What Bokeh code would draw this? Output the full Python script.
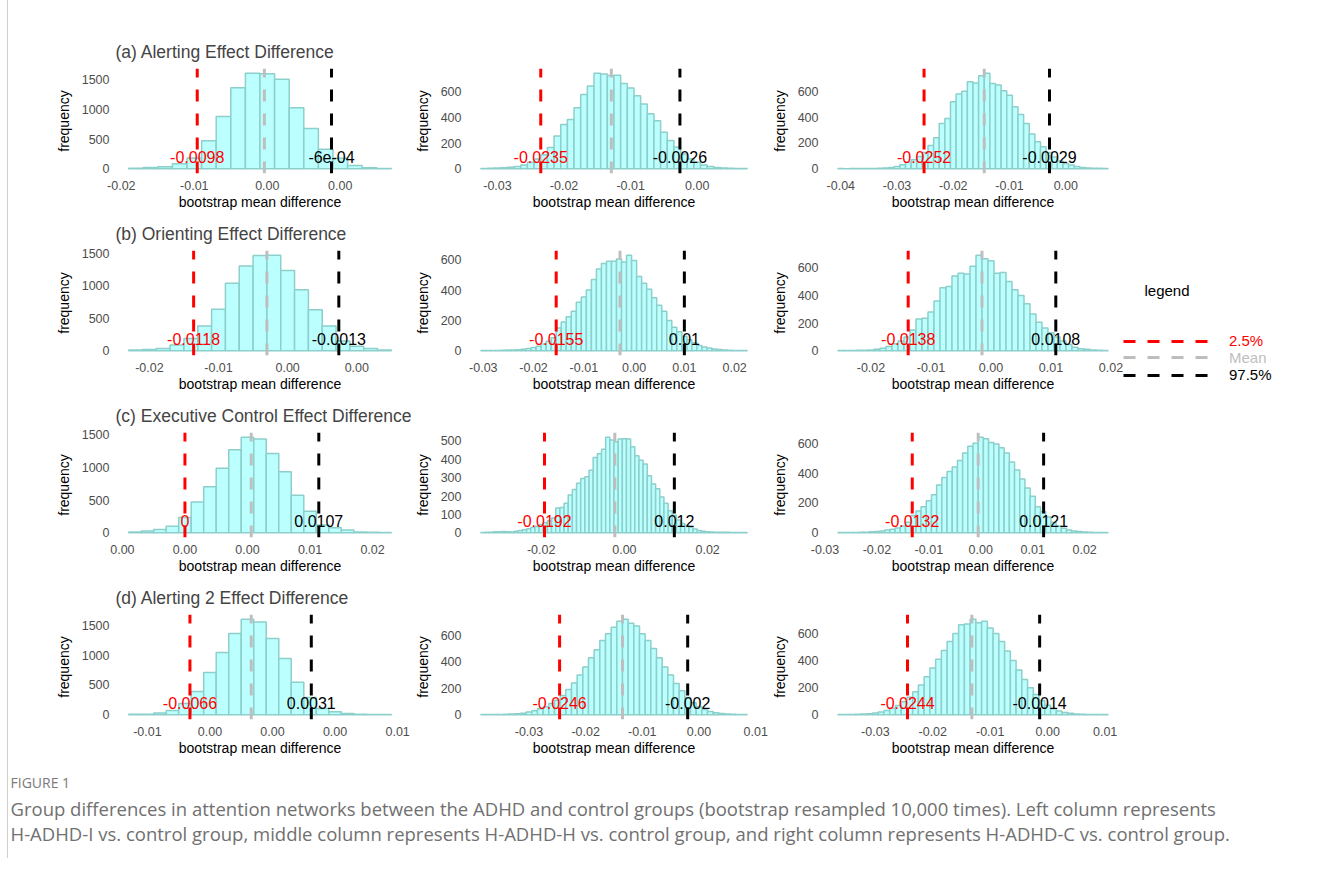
from bokeh.plotting import figure
from bokeh.models import ColumnDataSource, Range1d, FixedTicker, Label, Legend, LegendItem, Spacer
from bokeh.layouts import row, column
from bokeh.embed import file_html
from bokeh.resources import INLINE
from bokeh.core.properties import value

FONT = "Liberation Sans"

row_titles = ["(a) Alerting Effect Difference", "(b) Orienting Effect Difference",
              "(c) Executive Control Effect Difference", "(d) Alerting 2 Effect Difference"]
x_label = "bootstrap mean difference"
y_label = "frequency"
bin_width = 0.001

# ---------------- histogram counts (bin width 0.001) ----------------
a1_first_edge = -0.0145
a1_counts = [10, 20, 35, 85, 180, 470, 880, 1365, 1610, 1600, 1510, 1030, 680, 330, 175, 55, 15, 5]
a2_first_edge = -0.0325
a2_counts = [2, 3, 5, 8, 12, 18, 30, 50, 75, 110, 165, 255, 345, 385, 475, 580, 645, 745, 740, 728,
             730, 665, 630, 570, 505, 430, 375, 285, 220, 170, 115, 78, 50, 30, 18, 10, 6, 4, 2, 1]
a3_first_edge = -0.0405
a3_counts = [1, 0, 1, 1, 1, 2, 2, 3, 6, 10, 18, 30, 50, 70, 95, 125, 180, 240, 350, 390,
             520, 580, 600, 675, 665, 720, 740, 660, 650, 605, 570, 480, 420, 350, 270, 210, 170, 125, 90, 60,
             40, 28, 18, 10, 6, 4, 3, 2]

b1_first_edge = -0.0165
b1_counts = [10, 20, 35, 90, 190, 380, 640, 1040, 1305, 1465, 1470, 1235, 940, 630, 380, 150, 70, 35, 10]
b2_first_edge = -0.0305
b2_counts = [1, 1, 2, 2, 3, 4, 5, 7, 10, 15, 22, 30, 45, 62, 85, 150, 190, 225, 260, 320,
             355, 400, 470, 540, 575, 590, 590, 605, 585, 630, 595, 490, 445, 405, 350, 300, 260, 200, 155, 125,
             95, 72, 52, 35, 25, 18, 12, 8, 5, 3, 2, 1, 1]
b3_first_edge = -0.0255
b3_counts = [1, 1, 2, 3, 4, 6, 10, 18, 30, 50, 70, 100, 150, 230, 235, 280, 360, 455, 465, 540,
             560, 555, 610, 690, 665, 650, 560, 565, 500, 440, 400, 340, 265, 205, 165, 130, 100, 70, 45, 25,
             15, 10, 5, 3, 2]

c1_first_edge = -0.0045
c1_counts = [10, 25, 50, 100, 235, 470, 705, 990, 1275, 1465, 1440, 1215, 935, 575, 330, 120, 75, 40, 12, 6, 3]
c2_first_edge = -0.0345
c2_counts = [1, 2, 3, 5, 6, 7, 5, 4, 8, 12, 16, 22, 28, 35, 45, 55, 65, 80, 135, 138,
             160, 205, 235, 270, 295, 305, 340, 410, 430, 455, 520, 505, 495, 510, 512, 510, 468, 420, 395, 375,
             310, 265, 240, 195, 160, 120, 95, 70, 50, 40, 30, 20, 12, 8, 6, 4, 3, 3, 2, 2,
             1, 1, 1, 1]
c3_first_edge = -0.0275
c3_counts = [1, 1, 2, 2, 3, 4, 6, 8, 12, 18, 24, 32, 45, 70, 115, 145, 175, 215, 255, 320,
             370, 410, 440, 485, 535, 580, 600, 640, 630, 605, 595, 570, 535, 475, 420, 360, 300, 245, 175, 140,
             105, 70, 45, 30, 18, 12, 8, 5, 3, 2, 1, 1]

d1_first_edge = -0.0115
d1_counts = [10, 10, 30, 70, 190, 390, 710, 1045, 1365, 1605, 1560, 1280, 945, 545, 290, 105, 50, 20, 8, 5, 3]
d2_first_edge = -0.0385
d2_counts = [1, 1, 2, 2, 3, 5, 8, 12, 20, 30, 45, 60, 85, 110, 145, 190, 240, 300, 360, 430,
             490, 560, 610, 660, 705, 720, 690, 670, 610, 560, 500, 430, 360, 300, 235, 180, 130, 90, 60, 40,
             25, 15, 9, 5, 3, 2, 1]
d3_first_edge = -0.0365
d3_counts = [1, 1, 2, 3, 5, 8, 12, 20, 32, 48, 68, 95, 130, 170, 220, 280, 345, 410, 475, 540,
             600, 665, 670, 705, 680, 690, 640, 600, 540, 470, 400, 330, 260, 200, 150, 105, 70, 45, 28, 17,
             10, 6, 4, 2, 2, 1, 1]

# ---------------- quantiles and means ----------------
lower_values = [[-0.0098, -0.0235, -0.0252], [-0.0118, -0.0155, -0.0138],
                [0.0, -0.0192, -0.0132], [-0.0066, -0.0246, -0.0244]]
lower_labels = [["-0.0098", "-0.0235", "-0.0252"], ["-0.0118", "-0.0155", "-0.0138"],
                ["0", "-0.0192", "-0.0132"], ["-0.0066", "-0.0246", "-0.0244"]]
upper_values = [[-0.0006, -0.0026, -0.0029], [-0.0013, 0.01, 0.0108],
                [0.0107, 0.012, 0.0121], [0.0031, -0.002, -0.0014]]
upper_labels = [["-6e-04", "-0.0026", "-0.0029"], ["-0.0013", "0.01", "0.0108"],
                ["0.0107", "0.012", "0.0121"], ["0.0031", "-0.002", "-0.0014"]]
mean_values = [[-0.0052, -0.0129, -0.0145], [-0.0065, -0.0028, -0.0015],
               [0.0053, -0.0023, -0.0005], [-0.0017, -0.0135, -0.0132]]

# ---------------- axis ticks ----------------
a1_xticks, a1_xlabels = [-0.015, -0.01, -0.005, 0], ["-0.02", "-0.01", "0.00", "0.00"]
a2_xticks, a2_xlabels = [-0.03, -0.02, -0.01, 0], ["-0.03", "-0.02", "-0.01", "0.00"]
a3_xticks, a3_xlabels = [-0.04, -0.03, -0.02, -0.01, 0], ["-0.04", "-0.03", "-0.02", "-0.01", "0.00"]
b1_xticks, b1_xlabels = [-0.015, -0.01, -0.005, 0], ["-0.02", "-0.01", "0.00", "0.00"]
b2_xticks, b2_xlabels = [-0.03, -0.02, -0.01, 0, 0.01, 0.02], ["-0.03", "-0.02", "-0.01", "0.00", "0.01", "0.02"]
b3_xticks, b3_xlabels = [-0.02, -0.01, 0, 0.01, 0.02], ["-0.02", "-0.01", "0.00", "0.01", "0.02"]
c1_xticks, c1_xlabels = [-0.005, 0, 0.005, 0.01, 0.015], ["0.00", "0.00", "0.00", "0.01", "0.02"]
c2_xticks, c2_xlabels = [-0.02, 0, 0.02], ["-0.02", "0.00", "0.02"]
c3_xticks, c3_xlabels = [-0.03, -0.02, -0.01, 0, 0.01, 0.02], ["-0.03", "-0.02", "-0.01", "0.00", "0.01", "0.02"]
d1_xticks, d1_xlabels = [-0.01, -0.005, 0, 0.005, 0.01], ["-0.01", "0.00", "0.00", "0.00", "0.01"]
d2_xticks, d2_xlabels = [-0.03, -0.02, -0.01, 0, 0.01], ["-0.03", "-0.02", "-0.01", "0.00", "0.01"]
d3_xticks, d3_xlabels = [-0.03, -0.02, -0.01, 0, 0.01], ["-0.03", "-0.02", "-0.01", "0.00", "0.01"]

yticks_big = [0, 500, 1000, 1500]
yticks_mid = [0, 200, 400, 600]
yticks_c2 = [0, 100, 200, 300, 400, 500]

legend_labels = ["2.5%", "Mean", "97.5%"]
legend_colors = ["#FF0000", "#BEBEBE", "#000000"]

caption_head = "FIGURE 1"
caption_line1 = ("Group differences in attention networks between the ADHD and control groups "
                 "(bootstrap resampled 10,000 times). Left column represents")
caption_line2 = ("H-ADHD-I vs. control group, middle column represents H-ADHD-H vs. control group, "
                 "and right column represents H-ADHD-C vs. control group.")

first_edges = [[a1_first_edge, a2_first_edge, a3_first_edge], [b1_first_edge, b2_first_edge, b3_first_edge],
               [c1_first_edge, c2_first_edge, c3_first_edge], [d1_first_edge, d2_first_edge, d3_first_edge]]
counts_grid = [[a1_counts, a2_counts, a3_counts], [b1_counts, b2_counts, b3_counts],
               [c1_counts, c2_counts, c3_counts], [d1_counts, d2_counts, d3_counts]]
xticks_grid = [[a1_xticks, a2_xticks, a3_xticks], [b1_xticks, b2_xticks, b3_xticks],
               [c1_xticks, c2_xticks, c3_xticks], [d1_xticks, d2_xticks, d3_xticks]]
xlabels_grid = [[a1_xlabels, a2_xlabels, a3_xlabels], [b1_xlabels, b2_xlabels, b3_xlabels],
                [c1_xlabels, c2_xlabels, c3_xlabels], [d1_xlabels, d2_xlabels, d3_xlabels]]
yticks_grid = [[yticks_big, yticks_mid, yticks_mid], [yticks_big, yticks_mid, yticks_mid],
               [yticks_big, yticks_c2, yticks_mid], [yticks_big, yticks_mid, yticks_mid]]

# ---------------- layout constants ----------------
FRAME_W = [289, 297, 301]
BORDER_L = [107, 52, 52]
BORDER_R = [7, 8, 2]
FRAME_H = 105
BORDER_T = 38
BORDER_B = 39
ROW_H = FRAME_H + BORDER_T + BORDER_B
FILL = "#BBFFFF"
EDGE = "#8CCFCB"


def make_panel(r, c):
    start = first_edges[r][c]
    counts = counts_grid[r][c]
    n = len(counts)
    left = [start + i * bin_width for i in range(n)]
    right = [start + (i + 1) * bin_width for i in range(n)]
    lo, hi = left[0], right[-1]
    pad = 0.05 * (hi - lo)
    ymax = max(counts)
    y0, y1 = -0.05 * ymax, 1.05 * ymax

    p = figure(width=BORDER_L[c] + FRAME_W[c] + BORDER_R[c], height=ROW_H,
               x_range=Range1d(lo - pad, hi + pad), y_range=Range1d(y0, y1),
               min_border_left=BORDER_L[c], min_border_right=BORDER_R[c],
               min_border_top=BORDER_T, min_border_bottom=BORDER_B,
               toolbar_location=None, tools="", output_backend="svg")
    p.outline_line_color = None
    p.xgrid.visible = False
    p.ygrid.visible = False
    p.background_fill_color = "white"
    p.border_fill_color = "white"

    if c == 0:
        p.title.text = row_titles[r]
        p.title.text_font = FONT
        p.title.text_font_size = "17.5px"
        p.title.text_font_style = "normal"
        p.title.align = "left"
        p.title.standoff = 13
        p.title.offset = 0

    for ax in (p.xaxis[0], p.yaxis[0]):
        ax.axis_line_color = None
        ax.major_tick_line_color = None
        ax.minor_tick_line_color = None
        ax.major_tick_out = 0
        ax.major_tick_in = 0
        ax.minor_tick_out = 0
        ax.minor_tick_in = 0
        ax.major_label_text_font = FONT
        ax.major_label_text_font_size = "12.5px"
        ax.major_label_text_color = "#4D4D4D"
        ax.axis_label_text_font = FONT
        ax.axis_label_text_font_size = "14px"
        ax.axis_label_text_font_style = "normal"
        ax.axis_label_text_color = "black"
    xa, ya = p.xaxis[0], p.yaxis[0]
    xa.axis_label = x_label
    ya.axis_label = y_label
    xa.major_label_standoff = 7
    xa.axis_label_standoff = 1
    ya.major_label_standoff = 6
    ya.axis_label_standoff = 7
    xt = xticks_grid[r][c]
    xa.ticker = FixedTicker(ticks=xt, minor_ticks=[])
    xa.major_label_overrides = {t: l for t, l in zip(xt, xlabels_grid[r][c])}
    ya.ticker = FixedTicker(ticks=yticks_grid[r][c], minor_ticks=[])

    hist = ColumnDataSource(dict(left=left, right=right, top=counts, bottom=[0] * n))
    p.quad(left="left", right="right", top="top", bottom="bottom", source=hist,
           fill_color=FILL, line_color=EDGE, line_width=1.5)

    vals = [lower_values[r][c], mean_values[r][c], upper_values[r][c]]
    vsrc = ColumnDataSource(dict(x=vals, y0=[y0] * 3, y1=[y1] * 3, color=legend_colors))
    p.segment(x0="x", y0="y0", x1="x", y1="y1", source=vsrc, line_color="color",
              line_width=3, line_dash="12 12")

    ty = 0.12 * ymax
    tsrc = ColumnDataSource(dict(x=[lower_values[r][c], upper_values[r][c]], y=[ty, ty],
                                 text=[lower_labels[r][c], upper_labels[r][c]],
                                 color=[legend_colors[0], legend_colors[2]]))
    p.text(x="x", y="y", text="text", source=tsrc, text_color="color",
           text_font=value(FONT), text_font_size="16px",
           text_align="center", text_baseline="middle")
    return p


grid = column(*[row(*[make_panel(r, c) for c in range(3)]) for r in range(4)])

# ---------------- legend panel ----------------
LEG_W = 196
LEG_H = 4 * ROW_H
leg = figure(width=LEG_W, height=LEG_H, x_range=Range1d(0, 1), y_range=Range1d(0, 1),
             min_border=0, x_axis_location=None, y_axis_location=None,
             toolbar_location=None, tools="", output_backend="svg")
leg.outline_line_color = None
leg.grid.visible = False
leg_centers = [417, 400.5, 383]
for lab, col, yc in zip(legend_labels, legend_colors, leg_centers):
    # key-only renderer: its points lie outside the visible range, only the legend key shows
    rr = leg.line(x=[-5, -4], y=[-5, -5], line_color=col, line_width=3, line_dash="12 12")
    lg = Legend(items=[LegendItem(label=lab, renderers=[rr])], location=(0, yc - 8),
                orientation="vertical", glyph_width=85, glyph_height=16, label_height=16,
                label_standoff=21, padding=0, margin=0, spacing=0,
                border_line_color=None, background_fill_alpha=0,
                label_text_font=FONT, label_text_font_size="15px", label_text_color=col,
                label_text_baseline="middle")
    leg.add_layout(lg)
leg.add_layout(Label(x=21, y=468, x_units="screen", y_units="screen", text="legend",
                     text_font=FONT, text_font_size="15px", text_color="black",
                     text_baseline="middle"))

# ---------------- caption ----------------
CAP_W = sum(BORDER_L) + sum(FRAME_W) + sum(BORDER_R) + LEG_W
cap = figure(width=CAP_W, height=100, x_range=Range1d(0, 1), y_range=Range1d(0, 1),
             min_border=0, x_axis_location=None, y_axis_location=None,
             toolbar_location=None, tools="", output_backend="svg")
cap.outline_line_color = None
cap.grid.visible = False
cap.add_layout(Label(x=2, y=76, x_units="screen", y_units="screen", text=caption_head,
                     text_font="Open Sans", text_font_size="14px", text_color="#7a7a7a",
                     text_baseline="middle"))
cap.add_layout(Label(x=2, y=50, x_units="screen", y_units="screen", text=caption_line1,
                     text_font="Open Sans", text_font_size="18.5px", text_color="#707070",
                     text_baseline="middle"))
cap.add_layout(Label(x=2, y=25, x_units="screen", y_units="screen", text=caption_line2,
                     text_font="Open Sans", text_font_size="18.5px", text_color="#707070",
                     text_baseline="middle"))

content = column(Spacer(width=10, height=30), row(grid, leg), cap,
                 styles={"border-left": "1px solid #cfcfcf"})
root = row(Spacer(width=7, height=10), content)

open("out.html", "w").write(file_html(root, INLINE))
